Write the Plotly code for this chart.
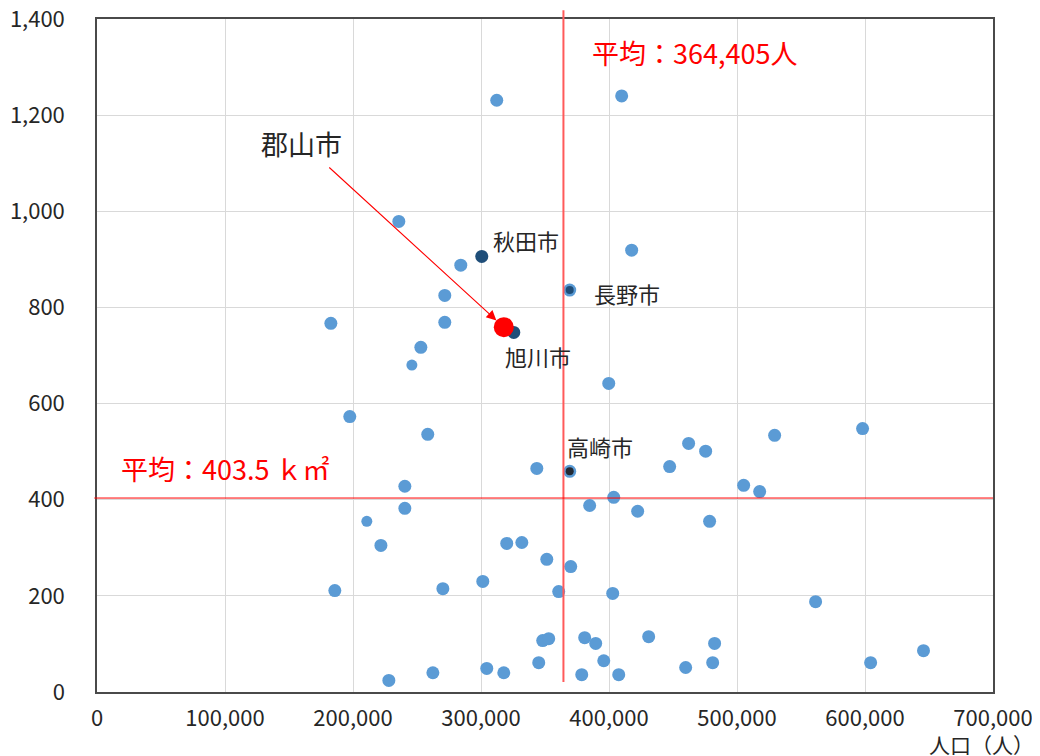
import plotly.graph_objects as go

# ---- data (population, area km2) ----
pop = [312300, 409900, 235800, 417700, 284200, 271700, 182700, 271700, 253000,
       399800, 197500, 258400, 598100, 529400, 462200, 475500, 447400, 343600,
       240500, 505200, 517700, 403700, 240500, 384900, 422400, 478600, 221800,
       320100, 331900, 351400, 370100, 185800, 270200, 301400, 360700, 402900,
       561400, 348200, 352900, 381000, 389600, 431000, 482500, 345100, 395900,
       481000, 459900, 378700, 407600, 604400, 645700, 262400, 304500, 317800,
       228000]
area = [1231, 1240, 979, 919, 888, 825, 767, 769, 717,
        642, 573, 536, 548, 534, 517, 501, 469, 465,
        428, 430, 417, 405, 382, 388, 376, 355, 305,
        309, 311, 276, 261, 211, 215, 230, 209, 205,
        188, 107, 111, 113, 101, 115, 101, 61, 65,
        61, 51, 36, 36, 61, 86, 40, 49, 40,
        24]
small_pop = [246000, 210800]
small_area = [680, 355]

# highlighted cities
akita = ("秋田市", 300600, 906)
asahikawa = ("旭川市", 325600, 748)
nagano = ("長野市", 369300, 836)
takasaki = ("高崎市", 369300, 459)
koriyama = ("郡山市", 317800, 759)

MEAN_POP = 364405
MEAN_AREA = 403.5

X_MAX = 700000
Y_MAX = 1400
x_ticks = [0, 100000, 200000, 300000, 400000, 500000, 600000, 700000]
y_ticks = [0, 200, 400, 600, 800, 1000, 1200, 1400]

FONT = "Noto Sans CJK JP"
BLUE = "#5b9bd5"
DARK = "#1f4e79"
RED = "#ff0000"

fig = go.Figure()

fig.add_trace(go.Scatter(
    x=pop + [nagano[1], takasaki[1]], y=area + [nagano[2], takasaki[2]],
    mode="markers", marker=dict(color=BLUE, size=13), showlegend=False))
fig.add_trace(go.Scatter(
    x=small_pop, y=small_area, mode="markers",
    marker=dict(color=BLUE, size=11), showlegend=False))
fig.add_trace(go.Scatter(
    x=[akita[1], asahikawa[1]], y=[akita[2], asahikawa[2]], mode="markers",
    marker=dict(color=DARK, size=13), showlegend=False))
fig.add_trace(go.Scatter(
    x=[nagano[1]], y=[nagano[2]], mode="markers",
    marker=dict(color=DARK, size=8), showlegend=False))
fig.add_trace(go.Scatter(
    x=[takasaki[1]], y=[takasaki[2]], mode="markers",
    marker=dict(color="#222a35", size=8), showlegend=False))
fig.add_trace(go.Scatter(
    x=[koriyama[1]], y=[koriyama[2]], mode="markers",
    marker=dict(color=RED, size=20), showlegend=False))

# mean lines (paper coordinates derived from the mean values and axis ranges)
fig.add_shape(type="line", xref="paper", yref="paper",
              x0=MEAN_POP / X_MAX, x1=MEAN_POP / X_MAX,
              y0=0.015, y1=1.013, line=dict(color="#ff5a5a", width=2))
fig.add_shape(type="line", xref="paper", yref="paper", x0=-0.003, x1=1,
              y0=MEAN_AREA / Y_MAX, y1=MEAN_AREA / Y_MAX,
              line=dict(color=RED, width=1))

annots = []
annots.append(dict(x=MEAN_POP, y=1330, xref="x", yref="y", xshift=27,
                   text="平均：{:,}人".format(MEAN_POP), showarrow=False,
                   xanchor="left", yanchor="middle",
                   font=dict(family=FONT, size=27, color=RED)))
annots.append(dict(x=0, y=MEAN_AREA, xref="x", yref="y", xshift=22, yshift=30,
                   text="平均：{} ｋ㎡".format(MEAN_AREA), showarrow=False,
                   xanchor="left", yanchor="middle",
                   font=dict(family=FONT, size=27, color=RED)))

lab_font = dict(family=FONT, size=22, color="#262626")
for (name, px, py), xs, ys in [(akita, 9, 16), (nagano, 22, -3),
                               (asahikawa, -11, -24), (takasaki, -5, 25)]:
    annots.append(dict(x=px, y=py, xref="x", yref="y", text=name,
                       showarrow=False, xanchor="left", yanchor="middle",
                       xshift=xs, yshift=ys, font=lab_font))

# Koriyama label + arrow
annots.append(dict(x=koriyama[1], y=koriyama[2], xref="x", yref="y",
                   text=koriyama[0], showarrow=False, xanchor="center",
                   yanchor="middle", xshift=-202, yshift=184,
                   font=dict(family=FONT, size=27, color="#262626")))
annots.append(dict(x=koriyama[1], y=koriyama[2], xref="x", yref="y", text="",
                   showarrow=True, ax=-176, ay=-161, axref="pixel", ayref="pixel",
                   arrowhead=2, arrowsize=1.8, arrowwidth=1.1,
                   arrowcolor=RED, standoff=10))

# axis title
annots.append(dict(x=1.048, y=-0.077, xref="paper", yref="paper",
                   text="人口（人）", showarrow=False, xanchor="right",
                   yanchor="middle", font=dict(family=FONT, size=21, color="#262626")))

axis_common = dict(showgrid=True, gridcolor="#d9d9d9", gridwidth=1,
                   showline=True, linecolor="#4a4a4a", linewidth=1.5, mirror=True,
                   zeroline=False, ticks="", automargin=False,
                   ticklabeloverflow="allow",
                   tickfont=dict(family=FONT, size=22, color="#262626"))

fig.update_layout(
    width=1040, height=756,
    margin=dict(l=89, r=55, t=11, b=72),
    paper_bgcolor="white", plot_bgcolor="white",
    xaxis=dict(range=[0, X_MAX], tickvals=x_ticks,
               ticktext=["{:,}".format(v) for v in x_ticks],
               ticklabelstandoff=6, **axis_common),
    yaxis=dict(range=[0, Y_MAX], tickvals=y_ticks,
               ticktext=["{:,}".format(v) for v in y_ticks],
               ticklabelstandoff=26, **axis_common),
    annotations=annots,
    showlegend=False,
)

fig.write_html("out.html")
